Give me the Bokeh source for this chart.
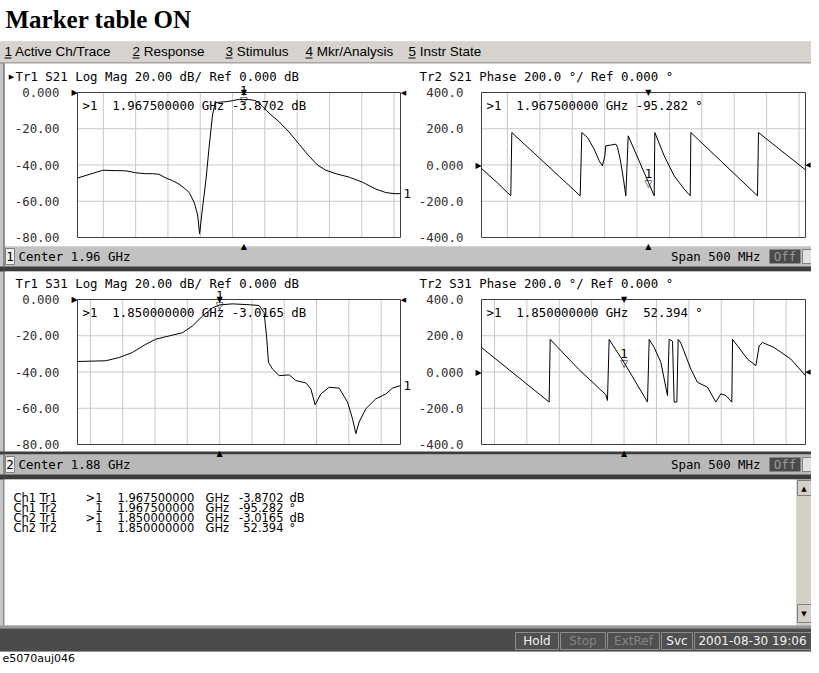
from bokeh.plotting import figure
from bokeh.models import Range1d
from bokeh.core.properties import value
from bokeh.embed import file_html
from bokeh.resources import INLINE

# ---------------- data ----------------
title_text = "Marker table ON"
menu_items = ["1 Active Ch/Trace", "2 Response", "3 Stimulus", "4 Mkr/Analysis", "5 Instr State"]

ch1_center, ch2_center, span = 1.96, 1.88, 0.5   # GHz
ch1_grid = [1.75, 1.80, 1.85, 1.90, 1.95, 2.00, 2.05, 2.10, 2.15, 2.20]
ch2_grid = [1.65, 1.70, 1.75, 1.80, 1.85, 1.90, 1.95, 2.00, 2.05, 2.10]

mag_ticks = [0, -20, -40, -60, -80]
mag_labels = ["0.000", "-20.00", "-40.00", "-60.00", "-80.00"]
phase_ticks = [400, 200, 0, -200, -400]
phase_labels = ["400.0", "200.0", "0.000", "-200.0", "-400.0"]

# Ch1 Tr1  S21 Log Mag (dB)
s21_mag_f = [1.71, 1.730, 1.749, 1.770, 1.785, 1.800, 1.815, 1.826, 1.836, 1.847, 1.857,
             1.867, 1.876, 1.883, 1.891, 1.896, 1.899, 1.9035, 1.9087, 1.9139, 1.919,
             1.9232, 1.930, 1.9396, 1.950, 1.9603, 1.9675, 1.9758, 1.986, 1.9964, 2.0067,
             2.0222, 2.0377, 2.0532, 2.0687, 2.0815, 2.0944, 2.1099, 2.1306, 2.1512,
             2.1718, 2.1873, 2.200, 2.21]
s21_mag_db = [-47.2, -45.0, -42.9, -43.1, -43.2, -44.3, -44.8, -44.8, -45.1, -47.2, -48.6,
              -50.5, -53.0, -55.2, -61.0, -67.6, -78.0, -63.8, -48.6, -29.5, -12.4,
              -5.7, -5.3, -5.1, -4.5, -3.8, -3.8702, -3.9, -4.5, -7.6, -11.4,
              -16.2, -21.9, -28.6, -35.2, -40.0, -42.9, -44.8, -46.7, -49.5,
              -53.3, -55.2, -55.8, -55.8]

# Ch1 Tr2  S21 Phase (deg)
s21_ph_f = [1.71, 1.735, 1.7552, 1.7568, 1.80, 1.83, 1.8623, 1.8648, 1.8736, 1.8839, 1.8916,
            1.8967, 1.9003, 1.9018, 1.9095, 1.9172, 1.9199, 1.924, 1.9291, 1.9327, 1.9364,
            1.9675, 1.9765, 1.9775, 1.992, 2.0074, 2.0228, 2.0321, 2.0331, 2.08, 2.1359,
            2.1375, 2.18, 2.21]
s21_ph_deg = [-19, -100, -170, 179, 36, -63, -170, 179, 152, 87, 23,
              -5, 51, 106, 110, 115, 97, 32, -78, -170, 161,
              -95.282, -170, 179, 50, -60, -133, -170, 179, 20, -170,
              179, 58, -27]

# Ch2 Tr1  S31 Log Mag (dB)
s31_mag_f = [1.63, 1.6738, 1.6945, 1.7151, 1.7357, 1.7512, 1.7719, 1.7925, 1.808, 1.8235,
             1.839, 1.85, 1.8699, 1.8958, 1.9112, 1.9189, 1.9226, 1.9257, 1.9319, 1.9422,
             1.9577, 1.9679, 1.9834, 1.9912, 1.9979, 2.0067, 2.0196, 2.0351, 2.048, 2.0557,
             2.0609, 2.066, 2.0763, 2.0918, 2.1073, 2.1176, 2.13]
s31_mag_db = [-34.2, -33.8, -32.0, -29.2, -24.7, -21.9, -20.1, -18.3, -14.6, -9.1,
              -4.6, -3.0165, -2.4, -2.9, -3.3, -7.3, -20.1, -34.7, -38.4, -42.0,
              -41.6, -44.7, -46.0, -49.3, -58.1, -52.1, -48.4, -48.9, -56.6, -65.8,
              -74.0, -67.6, -60.3, -54.8, -52.1, -48.9, -47.5]

# Ch2 Tr2  S31 Phase (deg)
s31_ph_f = [1.63, 1.7344, 1.736, 1.78, 1.8218, 1.8244, 1.827, 1.85, 1.8862, 1.8888, 1.8965,
            1.9068, 1.917, 1.9196, 1.9248, 1.9273, 1.9315, 1.9335, 1.9376, 1.9531, 1.9633,
            1.9788, 1.9916, 1.9994, 2.0071, 2.0163, 2.0174, 2.0251, 2.0405, 2.0534, 2.0585,
            2.0636, 2.0816, 2.1074, 2.13]
s31_ph_deg = [135, -166, 180, 15, -125, -157, 180, 52.394, -166, 180, 135,
              53, -130, 180, 170, -166, -166, 180, 160, 16, -57,
              -84, -166, -120, -130, -166, 180, 144, 71, 35, 144,
              163, 135, 71, -20]

marker_ch = ["Ch1", "Ch1", "Ch2", "Ch2"]
marker_tr = ["Tr1", "Tr2", "Tr1", "Tr2"]
marker_sym = [">1", "1", ">1", "1"]
marker_freq = [1.9675, 1.9675, 1.85, 1.85]
marker_val = [-3.8702, -95.282, -3.0165, 52.394]
marker_unit = ["dB", "°", "dB", "°"]

status_items = ["Hold", "Stop", "ExtRef", "Svc", "2001-08-30 19:06"]
footnote = "e5070auj046"

# ---------------- layout ----------------
W, H = 819, 673
PW, PH = 819, 673
FS = PW / W
MONO = "DejaVu Sans Mono"
NB = "\u00a0"


def px(s):
    return f"{s * FS:.1f}px"


p = figure(width=PW, height=PH, x_range=Range1d(0, W), y_range=Range1d(H, 0),
           output_backend="svg", toolbar_location=None, min_border=0,
           x_axis_location=None, y_axis_location=None)
p.margin = (-8, -8, -8, -8)
p.xgrid.visible = False
p.ygrid.visible = False
p.outline_line_color = None
p.background_fill_color = "white"
p.border_fill_color = "white"


def T(x, y, s, size, font=MONO, color="black", align="left", baseline="middle", style="normal", **kw):
    n = max(len(v) if isinstance(v, list) else 1 for v in (x, y, s))
    xs = x if isinstance(x, list) else [x] * n
    ys = y if isinstance(y, list) else [y] * n
    ss = s if isinstance(s, list) else [s] * n
    p.text(x=xs, y=ys, text=ss, text_font=value(font), text_font_size=px(size),
           text_color=color, text_align=align, text_baseline=baseline,
           text_font_style=style, **kw)


def box(l, t, r, b, fill, line=None, lw=1):
    p.quad(left=l, right=r, top=t, bottom=b, fill_color=fill, line_color=line, line_width=lw)


def hline(x0, x1, y, color, lw=1):
    p.segment(x0=[x0], x1=[x1], y0=[y], y1=[y], line_color=color, line_width=lw)


def vline(x, y0, y1, color, lw=1):
    p.segment(x0=[x], x1=[x], y0=[y0], y1=[y1], line_color=color, line_width=lw)


# title
T(13, 27, title_text, 25, font="Liberation Serif", style="bold", baseline="alphabetic")

# application frame
box(4, 49, W, 659, "#c4c4c4")
box(4, 49, W, 70, "#d6d3ce")
hline(4, W, 70.5, "#808080")
menu_x = [12, 140, 233, 313, 416]
T(menu_x, 59, menu_items, 13.5, font="Liberation Sans")
p.segment(x0=menu_x, x1=[x + 7 for x in menu_x], y0=[65.5] * 5, y1=[65.5] * 5,
          line_color="black", line_width=1)

# channel windows
box(12, 71, W, 254, "white")
box(12, 254, W, 274, "#c2c2c2")
box(4, 274, W, 279, "#3c3c3c")
box(12, 279, W, 461, "white")
box(4, 459, W, 462, "#3c3c3c")
box(12, 462, W, 482, "#b8b8b8")
box(4, 482, W, 487, "#3c3c3c")
vline(11.5, 71, 633, "#505050")

# footers
for (y0, y1, num, cen) in [(254, 274, "1", ch1_center), (462, 482, "2", ch2_center)]:
    ym = (y0 + y1) / 2
    box(13, y0 + 2, 22, y1 - 2, "#f0f0f0", "#808080")
    T(17.5, ym, num, 12.4, align="center")
    T(26, ym, f"Center {cen:.2f} GHz", 12.4)
    T(768, ym, f"Span {span * 1000:.0f} MHz", 12.4, align="right")
    box(777, y0 + 3, 808, y1 - 3, "#4a4a4a")
    T(792.5, ym, "Off", 12.4, color="#9a9a9a", align="center")
    box(810, y0 + 3, W + 2, y1 - 3, "#e2e2e2", "#808080")

# ---------------- panels ----------------
panels = {
    "a": dict(L=85, R=408, T=100, B=245, f0=ch1_center - span / 2, f1=ch1_center + span / 2, vtop=0, vbot=-80, ref=0),
    "b": dict(L=489, R=813, T=100, B=245, f0=ch1_center - span / 2, f1=ch1_center + span / 2, vtop=400, vbot=-400, ref=0),
    "c": dict(L=85, R=408, T=307, B=452, f0=ch2_center - span / 2, f1=ch2_center + span / 2, vtop=0, vbot=-80, ref=0),
    "d": dict(L=489, R=813, T=307, B=452, f0=ch2_center - span / 2, f1=ch2_center + span / 2, vtop=400, vbot=-400, ref=0),
}
xr, yr = {}, {}
for k, d in panels.items():
    kx = (d["f1"] - d["f0"]) / (d["R"] - d["L"])
    xr[k] = Range1d(d["f0"] - d["L"] * kx, d["f0"] + (W - d["L"]) * kx)
    ky = (d["vbot"] - d["vtop"]) / (d["B"] - d["T"])
    yr[k] = Range1d(d["vtop"] + (H - d["T"]) * ky, d["vtop"] - d["T"] * ky)
p.extra_x_ranges = xr
p.extra_y_ranges = yr


def draw_panel(k, grid_f, ticks, labels, tf, tv, mi, header, active, trace_no_label):
    d = panels[k]
    kw = dict(x_range_name=k, y_range_name=k)
    n = len(grid_f)
    p.segment(x0=grid_f, x1=grid_f, y0=[d["vbot"]] * n, y1=[d["vtop"]] * n,
              line_color="#c8c8c8", line_width=1, **kw)
    inner = ticks[1:-1]
    p.segment(x0=[d["f0"]] * len(inner), x1=[d["f1"]] * len(inner), y0=inner, y1=inner,
              line_color="#c8c8c8", line_width=1, **kw)
    p.quad(left=[d["f0"]], right=[d["f1"]], top=[d["vtop"]], bottom=[d["vbot"]],
           fill_color=None, line_color="#404040", line_width=1, **kw)
    p.line(tf, tv, line_color="black", line_width=1, **kw)
    # tick labels
    T([d["L"] - 18] * len(ticks), ticks, labels, 12.4, color="#303030", align="right",
      y_range_name=k)
    # reference-level arrows
    T(d["L"] - 3, d["ref"], "▶", 8, font="DejaVu Sans", align="center", y_range_name=k)
    rx = d["R"] + 3 if d["R"] < 700 else d["R"] + 2.5
    T(rx, d["ref"], "◀", 7, font="DejaVu Sans", align="center", y_range_name=k)
    # header
    hx = d["L"] - 62
    if active:
        T(hx - 4, d["T"] - 16, "▶", 7, font="DejaVu Sans", align="center")
    T(hx, d["T"] - 16, header, 12.4)
    # marker
    mf, mv = marker_freq[mi], marker_val[mi]
    T(mf, d["vtop"], "▼", 8, font="DejaVu Sans", align="center", baseline="alphabetic", **kw)
    T(mf, d["vbot"], "▲", 8, font="DejaVu Sans", align="center", baseline="alphabetic",
      y_offset=9, **kw)
    T(mf, mv, "▽", 10, font="DejaVu Sans", align="center", baseline="alphabetic", y_offset=1, **kw)
    T(mf, mv, "1", 12.4, align="center", baseline="alphabetic", y_offset=-9, **kw)
    vs = f"{mv:.4f}" if marker_unit[mi] == "dB" else f"{mv:>7.3f}"
    readout = ">1" + NB * 2 + f"{mf:.9f}" + NB + "GHz" + NB + vs.replace(" ", NB) + NB + marker_unit[mi]
    T(d["L"] + 5, d["T"] + 13, readout, 12.4)
    if trace_no_label:
        T(d["R"] + 3, tv[-1], "1", 12.4, y_range_name=k)


draw_panel("a", ch1_grid, mag_ticks, mag_labels, s21_mag_f, s21_mag_db, 0,
           "Tr1 S21 Log Mag 20.00 dB/ Ref 0.000 dB", True, True)
draw_panel("b", ch1_grid, phase_ticks, phase_labels, s21_ph_f, s21_ph_deg, 1,
           "Tr2 S21 Phase 200.0 °/ Ref 0.000 °", False, False)
draw_panel("c", ch2_grid, mag_ticks, mag_labels, s31_mag_f, s31_mag_db, 2,
           "Tr1 S31 Log Mag 20.00 dB/ Ref 0.000 dB", False, True)
draw_panel("d", ch2_grid, phase_ticks, phase_labels, s31_ph_f, s31_ph_deg, 3,
           "Tr2 S31 Phase 200.0 °/ Ref 0.000 °", False, False)

# ---------------- marker table ----------------
box(12, 487, 804, 633, "white")
box(804, 487, W, 633, "#d4d0c8")
box(805, 488, W, 503, "#d4d0c8", "#808080")
T(811.5, 496, "▲", 7, font="DejaVu Sans", align="center")
box(805, 612, W, 630, "#d4d0c8", "#808080")
T(811.5, 621, "▼", 7, font="DejaVu Sans", align="center")
row_y = [505, 515, 525, 535]
TF = "DejaVu Sans"
TS = 11.5
T(21, row_y, [f"{c} {t}" for c, t in zip(marker_ch, marker_tr)], TS, font=TF)
T(110, row_y, marker_sym, TS, font=TF, align="right")
T(125, row_y, [f"{f:.9f}" for f in marker_freq], TS, font=TF)
T(213, row_y, ["GHz"] * 4, TS, font=TF)
T(291, row_y, [f"{v:.4f}" if u == "dB" else f"{v:.3f}" for v, u in zip(marker_val, marker_unit)],
  TS, font=TF, align="right")
T(297, row_y, marker_unit, TS, font=TF)

# ---------------- status bar ----------------
box(4, 633, W, 636, "#9a9a9a")
box(4, 636, W, 659, "#4b4b4b")
sx0 = [523, 568, 615, 669, 702]
sx1 = [566, 613, 667, 700, W + 2]
scol = ["#f2f2f2", "#858585", "#858585", "#f2f2f2", "#f2f2f2"]
p.quad(left=sx0, right=sx1, top=[640] * 5, bottom=[657] * 5, fill_color="#505050",
       line_color="#8c8c8c", line_width=1)
T([(a + b) / 2 for a, b in zip(sx0, sx1)][:4] + [760], 648.5, status_items, 12,
  font="DejaVu Sans", color=scol, align="center")

# footnote
T(10, 666, footnote, 11, font="DejaVu Sans")

open("out.html", "w").write(file_html(p, INLINE))
